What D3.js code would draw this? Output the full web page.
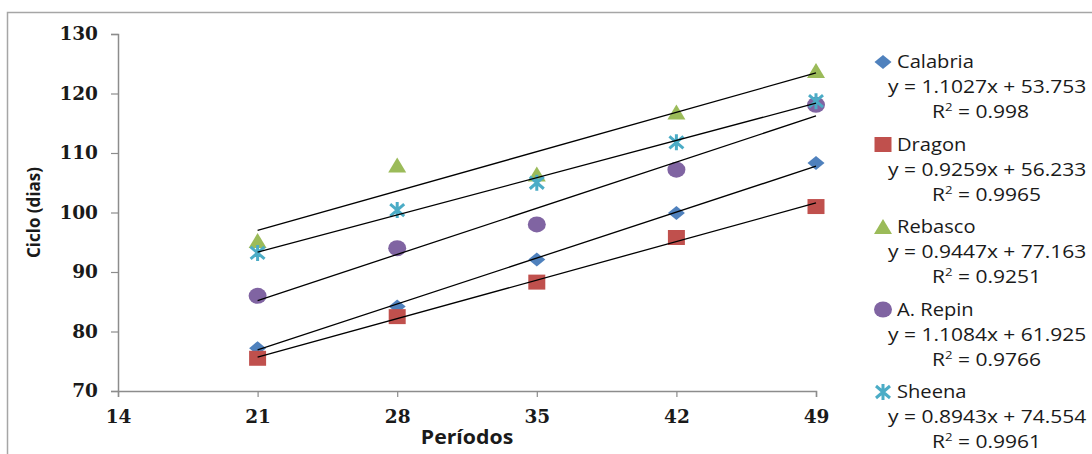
<!DOCTYPE html>
<html>
<head>
<meta charset="utf-8">
<script src="https://cdn.jsdelivr.net/npm/d3@7"></script>
<style>
    body { margin: 0; background: #fff; }
    svg { display: block; }
</style>
</head>
<body>
<div id="chart"></div>
<script>
// Ciclo (dias) vs Períodos - scatter with linear trendlines

var periods = [21, 28, 35, 42, 49];
var seriesNames = ["Calabria", "Dragon", "Rebasco", "A. Repin", "Sheena"];
var calabria = [77.2, 84.2, 92.1, 99.9, 108.3];
var dragon = [75.5, 82.5, 88.3, 95.8, 101.0];
var rebasco = [95.2, 107.9, 106.4, 116.8, 123.8];
var aRepin = [86.0, 94.0, 98.0, 107.2, 118.1];
var sheena = [93.2, 100.4, 105.0, 111.8, 118.7];
var slopes = [1.1027, 0.9259, 0.9447, 1.1084, 0.8943];
var intercepts = [53.753, 56.233, 77.163, 61.925, 74.554];
var rSquared = ["0.998", "0.9965", "0.9251", "0.9766", "0.9961"];
var xTicks = [14, 21, 28, 35, 42, 49];
var yTicks = [70, 80, 90, 100, 110, 120, 130];

var seriesValues = [calabria, dragon, rebasco, aRepin, sheena];
var colors = ["#4F81BD", "#C0504D", "#9BBB59", "#8064A2", "#4BACC6"];
var shapes = ["diamond", "square", "triangle", "circle", "star"];

var width = 1092, height = 454;
var margin = {top: 34, right: 276, bottom: 63, left: 118};

var svg = d3.select("#chart")
    .append("svg")
    .attr("width", width)
    .attr("height", height);

// chart area border
svg.append("rect")
    .attr("x", 7.5)
    .attr("y", 12.5)
    .attr("width", width + 10)
    .attr("height", height + 10)
    .attr("fill", "none")
    .attr("stroke", "#a6a6a6")
    .attr("stroke-width", 1.5);

var x = d3.scaleLinear()
    .domain([14, 49])
    .range([margin.left, width - margin.right]);

var y = d3.scaleLinear()
    .domain([70, 130])
    .range([height - margin.bottom, margin.top]);

// axes
var yAxis = svg.append("g")
    .attr("transform", "translate(" + margin.left + ",0)")
    .call(d3.axisLeft(y).tickValues(yTicks).tickSize(7).tickPadding(13));

var xAxis = svg.append("g")
    .attr("transform", "translate(0," + (height - margin.bottom) + ")")
    .call(d3.axisBottom(x).tickValues(xTicks).tickSize(6).tickPadding(13));

[xAxis, yAxis].forEach(function(ax) {
    ax.select(".domain").attr("stroke", "#8c8c8c").attr("stroke-width", 1.5);
    ax.selectAll(".tick line").attr("stroke", "#8c8c8c").attr("stroke-width", 1.2);
    ax.selectAll(".tick text")
        .attr("fill", "#1a1a1a")
        .style("font-family", "DejaVu Serif")
        .style("font-weight", "bold")
        .style("font-size", "18.5px");
});

// axis titles
svg.append("text")
    .attr("transform", "translate(" + ((x.range()[0] + x.range()[1]) / 2) + "," + (height - 10) + ") scale(1.12,1)")
    .attr("text-anchor", "middle")
    .style("font-family", "Open Sans")
    .style("font-weight", "bold")
    .style("font-size", "19px")
    .attr("fill", "#1a1a1a")
    .text("Períodos");

svg.append("text")
    .attr("transform", "translate(40," + ((y.range()[0] + y.range()[1]) / 2) + ") rotate(-90)")
    .attr("text-anchor", "middle")
    .style("font-family", "Open Sans")
    .style("font-weight", "bold")
    .style("font-size", "17px")
    .attr("fill", "#1a1a1a")
    .text("Ciclo (dias)");

// marker path generator, centred at 0,0
function markerPath(shape) {
    if (shape == "diamond") {
        return "M0,-7L8.5,0L0,7L-8.5,0Z";
    }
    else if (shape == "square") {
        return "M-8.5,-7.5H8.5V7.5H-8.5Z";
    }
    else if (shape == "triangle") {
        return "M0,-8L9,7H-9Z";
    }
    else if (shape == "circle") {
        return "M-9,0A9,8 0 1,0 9,0A9,8 0 1,0 -9,0Z";
    }
    else {
        return "M-7,-6L7,6M-7,6L7,-6M0,-8L0,8";
    }
}

function drawMarker(g, shape, color) {
    var p = g.append("path").attr("d", markerPath(shape));
    if (shape == "star") {
        p.attr("fill", "none").attr("stroke", color).attr("stroke-width", 3);
    }
    else {
        p.attr("fill", color);
    }
}

// markers
seriesValues.forEach(function(vals, i) {
    var pts = svg.append("g").attr("class", "series-" + i);
    vals.forEach(function(v, j) {
        var g = pts.append("g")
            .attr("transform", "translate(" + x(periods[j]) + "," + y(v) + ")");
        drawMarker(g, shapes[i], colors[i]);
    });
});

// linear trendlines on top of markers
var x0 = d3.min(periods), x1 = d3.max(periods);
slopes.forEach(function(m, i) {
    svg.append("line")
        .attr("x1", x(x0))
        .attr("y1", y(m * x0 + intercepts[i]))
        .attr("x2", x(x1))
        .attr("y2", y(m * x1 + intercepts[i]))
        .attr("stroke", "#000")
        .attr("stroke-width", 1.3);
});

// legend with trendline equations
var legendX = 883, legendTop = 62, blockH = 82.5;
seriesNames.forEach(function(name, i) {
    var top = legendTop + i * blockH;
    var mg = svg.append("g").attr("transform", "translate(" + legendX + "," + top + ")");
    drawMarker(mg, shapes[i], colors[i]);

    svg.append("text")
        .attr("transform", "translate(" + (legendX + 14) + "," + (top + 6) + ") scale(1.15,1)")
        .style("font-family", "Open Sans")
        .style("font-size", "17.5px")
        .attr("fill", "#1a1a1a")
        .text(name);

    svg.append("text")
        .attr("transform", "translate(888," + (top + 31) + ") scale(1.2,1)")
        .style("font-family", "Open Sans")
        .style("font-size", "17.5px")
        .attr("fill", "#1a1a1a")
        .text("y = " + slopes[i].toFixed(4) + "x + " + intercepts[i].toFixed(3));

    var r = svg.append("text")
        .attr("transform", "translate(932," + (top + 56) + ") scale(1.2,1)")
        .style("font-family", "Open Sans")
        .style("font-size", "17.5px")
        .attr("fill", "#1a1a1a");
    r.append("tspan").text("R");
    r.append("tspan").attr("dy", -7).style("font-size", "11px").text("2");
    r.append("tspan").attr("dy", 7).text(" = " + rSquared[i]);
});
</script>
</body>
</html>
